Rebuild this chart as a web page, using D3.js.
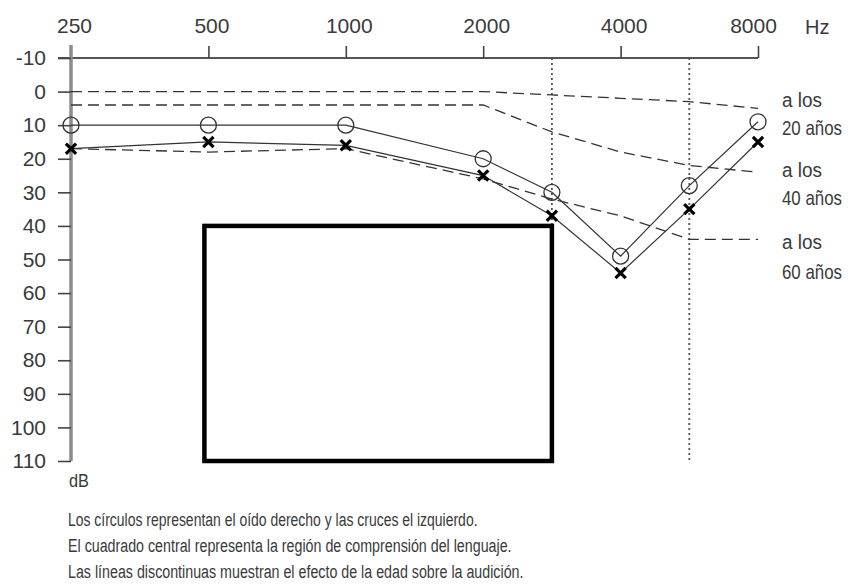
<!DOCTYPE html>
<html>
<head>
<meta charset="utf-8">
<script src="https://cdn.jsdelivr.net/npm/d3@7"></script>
<style>
  html, body { margin: 0; padding: 0; background: #fff; }
  svg { display: block; }
  text { font-family: "Liberation Sans", Arial, sans-serif; fill: #3a3a3a; }
</style>
</head>
<body>
<svg id="chart" width="853" height="587"></svg>
<script>
// Audiogram: hearing threshold (dB) against frequency (Hz)
const freqTicks = [250, 500, 1000, 2000, 4000, 8000];
const midFreqs = [3000, 6000];
const dbTicks = [-10, 0, 10, 20, 30, 40, 50, 60, 70, 80, 90, 100, 110];

const testFreqs = [250, 500, 1000, 2000, 3000, 4000, 6000, 8000];
const rightEar = [10, 10, 10, 20, 30, 49, 28, 9];   // circles
const leftEar  = [17, 15, 16, 25, 37, 54, 35, 15];  // crosses

// Typical thresholds by age
const ageNames  = ["20", "40", "60"];
const age20 = [0, 0, 0, 0, 1, 2, 3, 5];
const age40 = [4, 4, 4, 4, 12, 18, 22, 24];
const age60 = [17, 18, 17, 26, 32, 37, 44, 44];

// Speech comprehension region
const speechFreq = [490, 3000];
const speechDb = [40, 110];

const notes = [
  "Los círculos representan el oído derecho y las cruces el izquierdo.",
  "El cuadrado central representa la región de comprensión del lenguaje.",
  "Las líneas discontinuas muestran el efecto de la edad sobre la audición."
];

const svg = d3.select("#chart");

// condensed text: draw at full height, squeeze horizontally to a set width
function narrowText(parent, str, x0, y0, size, width) {
  const t = parent.append("text").attr("font-size", size).text(str);
  const natural = t.node().getComputedTextLength();
  const k = width / natural;
  t.attr("transform", `translate(${x0},${y0}) scale(${k},1)`);
  return t;
}

const x = d3.scaleLog().base(2).domain([250, 8000]).range([71, 758]);
// intermediate audiometric frequencies sit halfway between octaves
const fx = f => x(f === 3000 ? 2000 * Math.SQRT2 : f === 6000 ? 4000 * Math.SQRT2 : f);
const y = d3.scaleLinear().domain([-10, 110]).range([58, 461]);

// dotted verticals at 3000 and 6000 Hz
svg.append("g").selectAll("line").data(midFreqs).join("line")
  .attr("x1", d => fx(d)).attr("x2", d => fx(d))
  .attr("y1", y(-10)).attr("y2", y(110))
  .attr("stroke", "#555").attr("stroke-width", 1.8)
  .attr("stroke-dasharray", "2,3");

// top frequency axis
const topAxis = d3.axisTop(x).tickValues(freqTicks).tickSize(12).tickFormat(d => String(d));
const gTop = svg.append("g").attr("transform", `translate(0,${y(-10)})`).call(topAxis);
gTop.select(".domain").attr("stroke", "#555").attr("stroke-width", 2)
  .attr("d", `M${x(250) - 13},0H${x(8000)}`);
gTop.selectAll(".tick line").attr("stroke", "#444").attr("stroke-width", 1.6);
gTop.selectAll(".tick text").attr("font-size", 21).attr("fill", "#4a4a4a")
  .attr("font-family", "Liberation Sans, Arial, sans-serif").attr("y", -25).attr("dy", "0")
  .attr("dx", d => d === 8000 ? -5 : 3);
gTop.selectAll(".tick").filter(d => d === 250).select("line").remove();

// left dB axis
const leftAxis = d3.axisLeft(y).tickValues(dbTicks).tickSize(13).tickPadding(12).tickFormat(d => String(d));
const gLeft = svg.append("g").attr("transform", `translate(${x(250)},0)`).call(leftAxis);
gLeft.select(".domain").attr("stroke", "#8c8c8c").attr("stroke-width", 3.5)
  .attr("d", `M0,${y(-10) - 13}V${y(110)}`);
gLeft.selectAll(".tick line").attr("stroke", "#444").attr("stroke-width", 1.6);
gLeft.selectAll(".tick text").attr("font-size", 21).attr("fill", "#4a4a4a")
  .attr("font-family", "Liberation Sans, Arial, sans-serif");

svg.append("text").attr("x", 805).attr("y", 34).attr("font-size", 20).attr("fill", "#4a4a4a").text("Hz");
narrowText(svg, "dB", 69, 487, 18, 20).attr("fill", "#444");

// speech region box
svg.append("rect")
  .attr("x", fx(speechFreq[0])).attr("y", y(speechDb[0]))
  .attr("width", fx(speechFreq[1]) - fx(speechFreq[0]))
  .attr("height", y(speechDb[1]) - y(speechDb[0]))
  .attr("fill", "none").attr("stroke", "#000").attr("stroke-width", 4.5);

// age curves (dashed)
const line = d3.line().x((d, i) => fx(testFreqs[i])).y(d => y(d));
const ageSeries = [age20, age40, age60];
svg.append("g").selectAll("path").data(ageSeries).join("path")
  .attr("d", d => line(d))
  .attr("fill", "none").attr("stroke", "#333").attr("stroke-width", 1.3)
  .attr("stroke-dasharray", "11,6");

// ear thresholds (solid)
[rightEar, leftEar].forEach(s => {
  svg.append("path").attr("d", line(s))
    .attr("fill", "none").attr("stroke", "#333").attr("stroke-width", 1.2);
});

// right ear: circles
svg.append("g").selectAll("circle").data(rightEar).join("circle")
  .attr("cx", (d, i) => fx(testFreqs[i])).attr("cy", d => y(d)).attr("r", 8)
  .attr("fill", "none").attr("stroke", "#333").attr("stroke-width", 1.3);

// left ear: crosses
const cross = d3.symbol().type(d3.symbolX).size(70);
svg.append("g").selectAll("path").data(leftEar).join("path")
  .attr("transform", (d, i) => `translate(${fx(testFreqs[i])},${y(d)})`)
  .attr("d", cross())
  .attr("fill", "none").attr("stroke", "#000").attr("stroke-width", 3.2);

// age labels
const ageLabelY = [[107, 135], [177, 205], [249, 279]];
const gAge = svg.append("g");
ageNames.forEach((a, i) => {
  narrowText(gAge, "a los", 782, ageLabelY[i][0], 21, 40);
  narrowText(gAge, `${a} años`, 782, ageLabelY[i][1], 20, 60);
});

// footnotes
const noteWidths = [410, 444, 456];
const gNotes = svg.append("g");
notes.forEach((n, i) => narrowText(gNotes, n, 68, 526 + i * 26, 19, noteWidths[i]));
</script>
</body>
</html>
